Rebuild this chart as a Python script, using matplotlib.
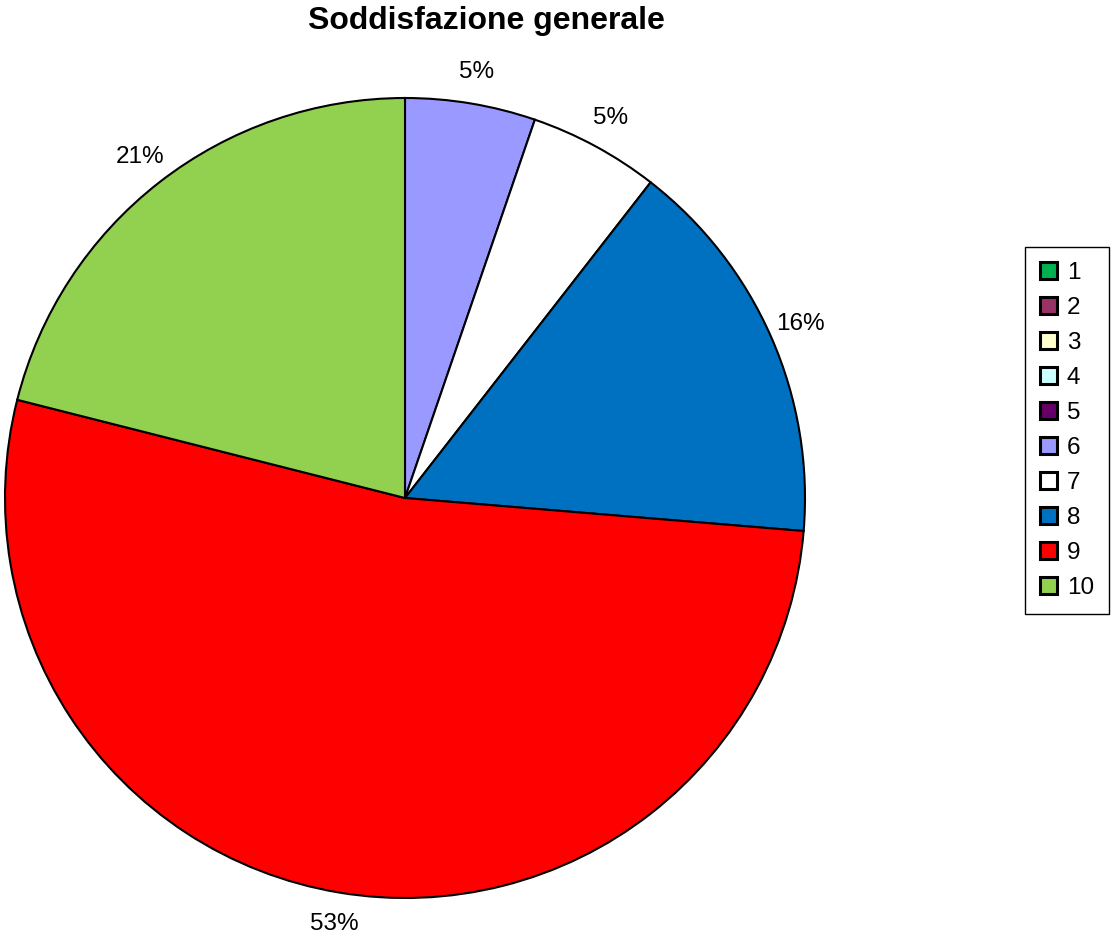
import matplotlib as mpl
mpl.use('Agg')
import matplotlib.pyplot as plt
from matplotlib.patches import Rectangle

mpl.rcParams['font.family'] = ['Liberation Sans', 'DejaVu Sans']

# data
categories = ['1', '2', '3', '4', '5', '6', '7', '8', '9', '10']
counts = [0, 0, 0, 0, 0, 1, 1, 3, 10, 4]
colors = ['#00B050', '#993366', '#FFFFCC', '#CCFFFF', '#660066',
          '#9999FF', '#FFFFFF', '#0070C0', '#FF0000', '#92D050']
title = 'Soddisfazione generale'

W, H = 1111, 938
fig = plt.figure(figsize=(W / 100, H / 100), dpi=100)

# pie axes: centre (405, 498) px, radius 400 px
cx, cy, r = 405, 498, 400
ax = fig.add_axes([(cx - r) / W, (H - cy - r) / H, 2 * r / W, 2 * r / H])

vals = [v for v in counts if v > 0]
cols = [c for v, c in zip(counts, colors) if v > 0]

wedges, texts, autotexts = ax.pie(
    vals, colors=cols, startangle=90, counterclock=False,
    autopct=lambda p: '%.0f%%' % p, pctdistance=1.08,
    wedgeprops=dict(edgecolor='black', linewidth=1.5),
    textprops=dict(fontsize=17.5, color='black'))
ax.set_xlim(-1, 1)
ax.set_ylim(-1, 1)
ax.set_aspect('equal')

fig.text(486 / W, 1 - 21 / H, title, ha='center', va='center',
         fontsize=23, fontweight='bold')

handles = [Rectangle((0, 0), 1, 1, facecolor=c, edgecolor='black', linewidth=2.2)
           for c in colors]
leg = fig.legend(handles, categories, loc='upper left',
                 bbox_to_anchor=(1025 / W, 1 - 247 / H), borderaxespad=0,
                 fontsize=17.5, handlelength=0.72, handleheight=0.72,
                 handletextpad=0.4, labelspacing=0.53, borderpad=0.6,
                 fancybox=False, edgecolor='black', framealpha=1)
leg.get_frame().set_linewidth(1.0)

plt.savefig('out.png', dpi=100)
